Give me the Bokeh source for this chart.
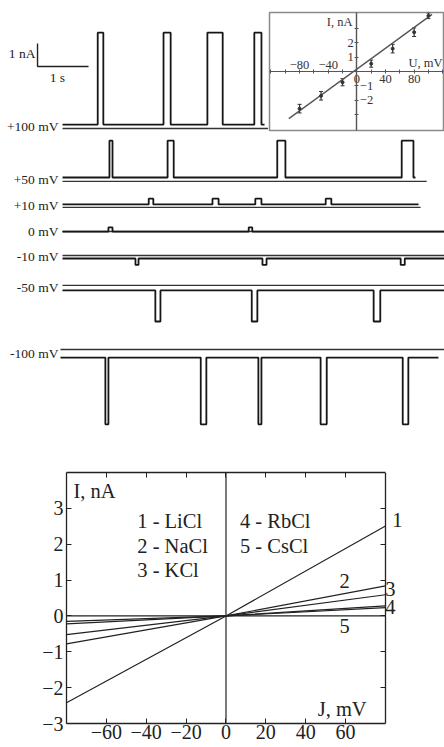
from bokeh.plotting import figure
from bokeh.layouts import column, row
from bokeh.models import (LinearAxis, FixedTicker, Whisker, TeeHead,
                          ColumnDataSource, Range1d)
from bokeh.core.properties import value
from bokeh.embed import file_html
from bokeh.resources import INLINE

FONT = "Liberation Serif"

# ---------------- data: single-channel current traces ----------------
trace_labels = ["+100 mV", "+50 mV", "+10 mV", "0 mV", "-10 mV", "-50 mV", "-100 mV"]
baseline_nA = [0.17, 0.17, 0.13, 0.0, -0.13, -0.22, -0.35]
open_amp_nA = [4.0, 1.6, 0.25, 0.18, -0.28, -1.35, -2.9]
trace_start_s = [0.04, 0.04, 0.04, 0.04, 0.04, 0.04, 0.0]
trace_end_s = [4.0, 6.96, 7.02, 7.53, 7.53, 7.53, 7.41]
zero_end_s = [4.08, 7.18, 7.06, 7.53, 7.53, 7.53, 7.53]
open_events_s = [
    [(0.73, 0.84), (2.02, 2.16), (2.88, 3.18), (3.80, 3.94)],
    [(0.96, 1.02), (2.10, 2.22), (4.25, 4.41), (6.69, 6.92)],
    [(1.73, 1.82), (2.98, 3.10), (3.82, 3.94), (5.20, 5.31)],
    [(0.94, 1.02), (3.69, 3.76)],
    [(1.47, 1.53), (3.96, 4.04), (6.67, 6.75)],
    [(1.86, 1.96), (3.75, 3.86), (6.14, 6.27)],
    [(0.88, 0.94), (2.75, 2.86), (3.88, 3.94), (5.10, 5.22), (6.71, 6.82)],
]
scale_bar_nA = 1.0
scale_bar_s = 1.0

# ---------------- data: inset I-V of single channel ----------------
inset_u = [-80, -50, -20, 20, 50, 80, 100]
inset_i = [-2.6, -1.7, -0.75, 0.55, 1.6, 2.75, 3.9]
inset_err = [0.3, 0.3, 0.25, 0.25, 0.3, 0.3, 0.2]
inset_fit_u = [-95, 105]
inset_fit_i = [-3.3, 4.0]

# ---------------- data: I-V curves for salts ----------------
iv_voltage = [-80, 0, 80]
iv_licl = [-2.42, 0.0, 2.51]
iv_nacl = [-0.78, 0.0, 0.84]
iv_kcl = [-0.52, 0.0, 0.59]
iv_rbcl = [-0.22, 0.0, 0.28]
iv_cscl = [-0.15, 0.0, 0.23]
legend_left = ["1 - LiCl", "2 - NaCl", "3 - KCl"]
legend_right = ["4 - RbCl", "5 - CsCl"]
curve_ids = ["1", "2", "3", "4", "5"]

# ---------------- layout (vertical placement of trace rows) ----------------
trace_row_y = [14.52, 12.22, 11.09, 10.04, 9.0, 7.70, 4.91]
INK = "#161616"
TXT = "#222222"


def trace_xy(k):
    base = trace_row_y[k] + baseline_nA[k]
    amp = open_amp_nA[k]
    xs = [trace_start_s[k]]
    ys = [base]
    for a, b in open_events_s[k]:
        xs += [a, a, b, b]
        ys += [base, base + amp, base + amp, base]
    xs.append(trace_end_s[k])
    ys.append(base)
    return xs, ys


def draw_trace(p, k):
    xs, ys = trace_xy(k)
    p.line([trace_start_s[k], zero_end_s[k]], [trace_row_y[k], trace_row_y[k]],
           line_color="#333333", line_width=1.4)
    p.line(xs, ys, line_color=INK, line_width=1.8)
    p.text(x=[-0.04], y=[trace_row_y[k] + baseline_nA[k] * 0.5], text=[trace_labels[k]],
           text_font=value(FONT), text_font_size=value("13.5px"),
           text_align="right", text_baseline="middle", text_color=TXT)


def bare(p):
    p.grid.visible = False
    p.frame_align = False
    return p


# ---- A: +100 mV trace with scale bar ----
pA = bare(figure(width=268, height=134, x_range=Range1d(-1.176, 4.078),
                 y_range=Range1d(14.26, 20.09), min_border=0,
                 x_axis_location=None, y_axis_location=None, outline_line_color=None,
                 output_backend="svg", toolbar_location=None))
draw_trace(pA, 0)
sb_t0, sb_y0 = -0.45, 17.22
pA.line([sb_t0, sb_t0, sb_t0 + scale_bar_s], [sb_y0 + scale_bar_nA, sb_y0, sb_y0],
        line_color="#222222", line_width=1.4)
pA.text(x=[sb_t0 - 0.04], y=[sb_y0 + 0.55], text=["1 nA"], text_font=value(FONT),
        text_font_size=value("13.5px"), text_align="right", text_baseline="middle",
        text_color=TXT)
pA.text(x=[sb_t0 + 0.39], y=[sb_y0 - 0.5], text=["1 s"], text_font=value(FONT),
        text_font_size=value("13.5px"), text_align="center", text_baseline="middle",
        text_color=TXT)

# ---- B: inset I-V ----
pB = bare(figure(width=176, height=134, x_range=Range1d(-122, 121),
                 y_range=Range1d(-4.13, 4.13), min_border_left=1, min_border_right=1,
                 min_border_top=12, min_border_bottom=4,
                 x_axis_location=None, y_axis_location=None,
                 outline_line_color="#8a8a8a", outline_line_width=1.5,
                 output_backend="svg", toolbar_location=None))


def inset_axis(ticks, minor):
    return LinearAxis(fixed_location=0, ticker=FixedTicker(ticks=ticks, minor_ticks=minor),
                      major_label_text_font=FONT, major_label_text_font_size="12.5px",
                      major_label_text_color="#333333", major_label_standoff=1,
                      axis_line_color="#555555", axis_line_width=1.2,
                      major_tick_line_color="#555555", major_tick_in=2, major_tick_out=2,
                      minor_tick_line_color="#555555", minor_tick_in=2, minor_tick_out=2)


pB.add_layout(inset_axis([-80, -40], [-120, -100, -60, -20]), "above")
pB.add_layout(inset_axis([0, 40, 80], [20, 60, 100, 120]), "below")
pB.add_layout(inset_axis([1, 2], [3]), "left")
pB.add_layout(inset_axis([-1, -2], [-3]), "right")
pB.line(inset_fit_u, inset_fit_i, line_color="#555555", line_width=1.3)
src_in = ColumnDataSource(dict(u=inset_u, i=inset_i,
                               lo=[a - e for a, e in zip(inset_i, inset_err)],
                               hi=[a + e for a, e in zip(inset_i, inset_err)]))
pB.add_layout(Whisker(source=src_in, base="u", upper="hi", lower="lo",
                      line_color="#333333", line_width=1.2,
                      upper_head=TeeHead(size=4, line_color="#333333"),
                      lower_head=TeeHead(size=4, line_color="#333333")))
pB.scatter("u", "i", source=src_in, size=3, color="#333333")
pB.text(x=[-6], y=[3.45], text=["I, nA"], text_font=value(FONT), text_font_size=value("12.5px"),
        text_align="right", text_baseline="middle", text_color="#333333")
pB.text(x=[72], y=[0.6], text=["U, mV"], text_font=value(FONT), text_font_size=value("12.5px"),
        text_align="left", text_baseline="middle", text_color="#333333")

# ---- C: remaining traces ----
pC = bare(figure(width=444, height=328, x_range=Range1d(-1.176, 7.529),
                 y_range=Range1d(0, 14.26), min_border=0,
                 x_axis_location=None, y_axis_location=None, outline_line_color=None,
                 output_backend="svg", toolbar_location=None))
for k in range(1, len(trace_labels)):
    draw_trace(pC, k)

# ---- D: I-V curves for salts ----
v_lo, v_hi = iv_voltage[0], iv_voltage[-1]
pD = bare(figure(width=444, height=284, x_range=Range1d(-80, 108.6), y_range=Range1d(-3, 4),
                 min_border_left=66, min_border_right=2, min_border_top=10,
                 min_border_bottom=23, outline_line_color=None,
                 output_backend="svg", toolbar_location=None))


def frame_axis(ax, ticks, show_labels):
    if show_labels:
        ax.ticker = FixedTicker(ticks=ticks)
    else:
        ax.ticker = FixedTicker(ticks=[], minor_ticks=ticks)
    ax.major_tick_in = 5
    ax.major_tick_out = 0
    ax.minor_tick_in = 5
    ax.minor_tick_out = 0
    ax.major_tick_line_color = "#222222"
    ax.minor_tick_line_color = "#222222"
    ax.axis_line_color = "#222222"
    ax.axis_line_width = 1.3
    ax.major_label_text_font = FONT
    ax.major_label_text_color = TXT
    ax.major_label_standoff = 1
    ax.major_label_text_font_size = "20px"


xt = [-60, -40, -20, 0, 20, 40, 60]
yt = [-3, -2, -1, 0, 1, 2, 3]
frame_axis(pD.xaxis[0], xt, True)
pD.xaxis[0].bounds = (v_lo, v_hi)
frame_axis(pD.yaxis[0], yt, True)
pD.yaxis[0].major_label_standoff = 3
top_ax = LinearAxis(bounds=(v_lo, v_hi))
frame_axis(top_ax, xt, False)
pD.add_layout(top_ax, "above")
right_ax = LinearAxis(fixed_location=v_hi)
frame_axis(right_ax, yt, False)
pD.add_layout(right_ax, "right")

# zero axes crossing inside the plot
pD.line([0, 0], [-3, 4], line_color="#222222", line_width=1.2)
pD.line([v_lo, v_hi], [0, 0], line_color="#222222", line_width=1.2)
for ys in (iv_licl, iv_nacl, iv_kcl, iv_rbcl, iv_cscl):
    pD.line(iv_voltage, ys, line_color="#222222", line_width=1.2)

txt = dict(text_font=value(FONT), text_font_size=value("20.5px"), text_color=TXT,
           text_baseline="middle")
pD.text(x=[-44.5] * 3, y=[2.65, 1.95, 1.28], text=legend_left, text_align="left", **txt)
pD.text(x=[7] * 2, y=[2.65, 1.95], text=legend_right, text_align="left", **txt)
pD.text(x=[-76.5], y=[3.48], text=["I, nA"], text_align="left", **txt)
pD.text(x=[46], y=[-2.6], text=["J, mV"], text_align="left", **txt)
pD.text(x=[86, 59.5, 82.5, 82.5, 59.5], y=[2.67, 0.97, 0.75, 0.25, -0.27],
        text=curve_ids, text_align="center", **txt)

layout = column(row(pA, pB, spacing=0), pC, pD, spacing=0)
open("out.html", "w").write(file_html(layout, INLINE))
